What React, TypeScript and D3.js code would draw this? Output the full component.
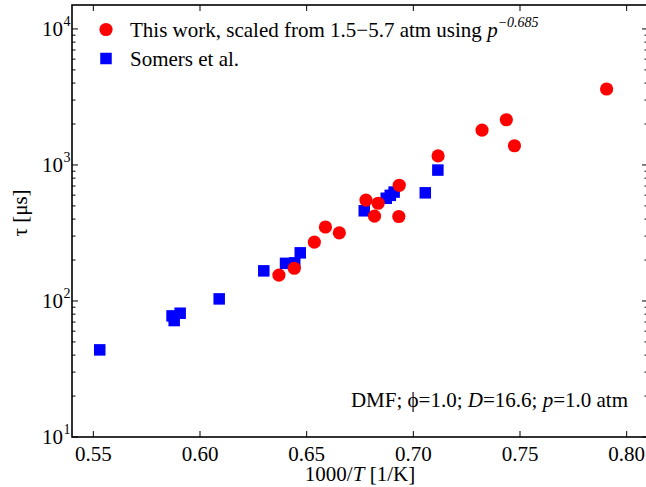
import React from "react";
import * as d3 from "d3";

// This work (red circles): 1000/T [1/K], tau [us]
const thisWorkX = [0.637, 0.6442, 0.6536, 0.6588, 0.6653, 0.6778, 0.6835, 0.6818, 0.6934, 0.6932, 0.7116, 0.7322, 0.7436, 0.7474, 0.7906];
const thisWorkY = [155, 174, 271, 350, 317, 552, 523, 421, 709, 418, 1165, 1806, 2150, 1384, 3618];

// Somers et al. (blue squares)
const somersX = [0.553, 0.5869, 0.5879, 0.5907, 0.609, 0.6299, 0.6401, 0.6444, 0.647, 0.677, 0.6873, 0.6892, 0.691, 0.7056, 0.7115];
const somersY = [43.7, 77.7, 71.8, 81.3, 103.6, 166.5, 189.1, 190.7, 225.9, 460.3, 569, 598, 632, 624, 917];

const xTicks = [0.55, 0.6, 0.65, 0.7, 0.75, 0.8];
const yDecades = [1, 2, 3, 4];

const W = 646;
const H = 487;
const left = 72;
const right = 648;
const top = 5;
const bottom = 437;
const font = "'Liberation Serif', 'Times New Roman', serif";
const fs = 21;
const fsSup = 14;

export default function App() {
  const x = d3.scaleLinear().domain([0.54, 0.81]).range([left, right]);
  const y = d3.scaleLog().domain([10, 15000]).range([bottom, top]);

  const minor: number[] = [];
  for (const e of [1, 2, 3, 4]) {
    for (let m = 2; m <= 9; m++) {
      const v = m * Math.pow(10, e);
      if (v <= 15000) minor.push(v);
    }
  }

  const majorLen = 6;
  const minorLen = 3.5;
  const sq = 11.5;

  return (
    <svg width={W} height={H} style={{ position: "absolute", left: 0, top: 0, background: "#fff" }} fontFamily={font}>
      <rect x={0} y={0} width={W} height={H} fill="#fff" />
      {/* ticks */}
      <g stroke="#000" strokeWidth={1}>
        {xTicks.map((t) => (
          <g key={"xt" + t}>
            <line x1={x(t)} x2={x(t)} y1={bottom} y2={bottom - majorLen} />
            <line x1={x(t)} x2={x(t)} y1={top} y2={top + majorLen} />
          </g>
        ))}
        {yDecades.map((e) => {
          const v = Math.pow(10, e);
          return (
            <g key={"yt" + e}>
              <line x1={left} x2={left + majorLen} y1={y(v)} y2={y(v)} />
              <line x1={right} x2={right - majorLen} y1={y(v)} y2={y(v)} />
            </g>
          );
        })}
        {minor.map((v) => (
          <g key={"ym" + v}>
            <line x1={left} x2={left + minorLen} y1={y(v)} y2={y(v)} />
            <line x1={right} x2={right - minorLen} y1={y(v)} y2={y(v)} />
          </g>
        ))}
      </g>
      {/* frame */}
      <rect x={left} y={top} width={right - left} height={bottom - top} fill="none" stroke="#000" strokeWidth={1.6} />

      {/* x tick labels */}
      {xTicks.map((t) => (
        <text key={"xl" + t} x={x(t)} y={461} textAnchor="middle" fontSize={fs} fill="#000">
          {t.toFixed(2)}
        </text>
      ))}
      {/* y tick labels */}
      {yDecades.map((e) => {
        const yy = y(Math.pow(10, e));
        return (
          <g key={"yl" + e}>
            <text x={63} y={yy + 7} textAnchor="end" fontSize={fs} fill="#000">10</text>
            <text x={63.5} y={yy - 3} fontSize={fsSup} fill="#000">{e}</text>
          </g>
        );
      })}

      {/* axis labels */}
      <text x={(left + right) / 2} y={481} textAnchor="middle" fontSize={fs} fill="#000">
        1000/<tspan fontStyle="italic">T</tspan> [1/K]
      </text>
      <text transform={`translate(27,${(top + bottom) / 2 - 8}) rotate(-90)`} textAnchor="middle" fontSize={fs} fill="#000">
        τ [μs]
      </text>

      {/* data */}
      {somersX.map((v, i) => (
        <rect key={"s" + i} x={x(v) - sq / 2} y={y(somersY[i]) - sq / 2} width={sq} height={sq} fill="#0000ff" />
      ))}
      {thisWorkX.map((v, i) => (
        <circle key={"c" + i} cx={x(v)} cy={y(thisWorkY[i])} r={6.6} fill="#ff0000" />
      ))}

      {/* legend */}
      <circle cx={106} cy={29.5} r={6.6} fill="#ff0000" />
      <rect x={106 - sq / 2} y={58.5 - sq / 2} width={sq} height={sq} fill="#0000ff" />
      <text x={130} y={37} fontSize={fs} fill="#000">
        This work, scaled from 1.5−5.7 atm using <tspan fontStyle="italic">p</tspan>
        <tspan fontStyle="italic" fontSize={fsSup} dy={-10}>−0.685</tspan>
      </text>
      <text x={130} y={66} fontSize={fs} fill="#000">Somers et al.</text>

      {/* annotation */}
      <text x={628} y={407} textAnchor="end" fontSize={fs} fill="#000">
        DMF; ϕ=1.0; <tspan fontStyle="italic">D</tspan>=16.6; <tspan fontStyle="italic">p</tspan>=1.0 atm
      </text>
    </svg>
  );
}
